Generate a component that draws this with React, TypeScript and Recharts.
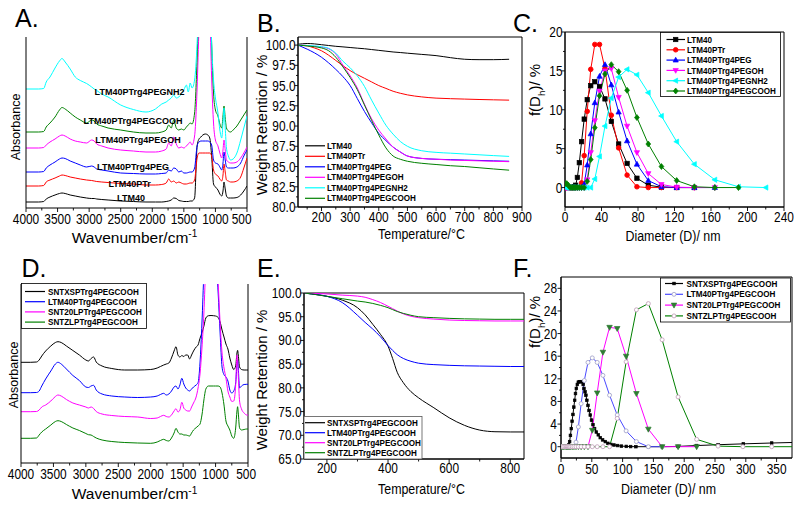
import React from 'react';
import { LineChart, Line, XAxis, YAxis, ReferenceArea, ReferenceDot, ReferenceLine } from 'recharts';

const FONT = "'Liberation Sans', Arial, Helvetica, sans-serif";
const BLACK = '#000000';
const RED = '#ff0000';
const BLUE = '#0000ff';
const MAGENTA = '#ff00ff';
const CYAN = '#00ffff';
const GREEN = '#008000';

/* ---------------- Panel A : FTIR (LTM40 series) ---------------- */
const wavenumbersA = [4000, 3800, 3720, 3680, 3620, 3540, 3470, 3430, 3380, 3300, 3220, 3140, 3040, 2960, 2920, 2880, 2800, 2700, 2500, 2300, 2100, 1950, 1850, 1780, 1740, 1700, 1660, 1620, 1580, 1540, 1500, 1460, 1430, 1400, 1370, 1330, 1290, 1260, 1230, 1200, 1160, 1120, 1090, 1060, 1030, 1000, 960, 930, 900, 880, 864, 845, 825, 795, 760, 720, 660, 600, 550, 500];
const ltm40A = [6, 6, 6.5, 9, 11, 13, 14.5, 15, 14.5, 13, 12, 11, 10, 9.5, 9.5, 9, 8.5, 8, 7, 6.5, 6, 6, 6, 6.5, 7, 8, 10, 9.5, 7.5, 7, 6.5, 6.5, 6.5, 7, 7, 10, 62, 69, 71, 73, 74, 73, 70, 52, 24, 21, 18, 14, 12, 17, 26, 19, 12, 10, 10, 10, 10.5, 13, 17, 22];
const ltm40PTrA = [22, 22, 22.5, 26, 28, 30, 32, 33, 32.5, 31, 30, 29, 28, 27.5, 27, 26.5, 26, 25.5, 24.5, 24, 23, 23, 23.5, 25, 29, 26, 27, 25, 26, 25, 24, 24, 24.5, 25, 25, 28, 50, 55, 55, 55, 55, 55, 55, 52, 38, 34, 32, 29, 27, 33, 44, 36, 28, 27, 26, 26, 27, 31, 40, 50];
const pegA = [36, 36, 36.5, 40, 43, 46, 49, 50, 49.5, 47, 45, 43, 41, 42, 41, 39, 38, 37, 35, 34.5, 34, 34, 34.5, 35, 38, 37, 40, 39, 36, 37, 35, 35, 35.5, 36, 36, 40, 62, 66, 67, 67, 67, 67, 66, 63, 48, 45, 44, 41, 38, 45, 56, 48, 41, 40, 40, 40, 41, 45, 52, 58];
const pegOHA = [60, 60, 60.5, 63, 66, 69, 72, 73, 72, 69, 67, 66, 65, 68, 67, 64, 62, 60, 58, 57, 56, 56, 57, 59, 65, 62, 71, 64, 60, 61, 60, 62, 64, 66, 63, 72, 120, 180, 215, 235, 245, 235, 200, 130, 85, 68, 62, 55, 50, 58, 68, 58, 48, 46, 45, 45, 46, 50, 55, 61];
const pegCOOHA = [76, 76, 76.5, 81, 85, 91, 98, 100.5, 99, 95, 91, 88, 85, 88, 87, 84, 82, 80, 78, 76, 75, 75, 76, 78, 83, 80, 88, 80, 78, 79, 78, 81, 83, 85, 84, 95, 150, 210, 250, 270, 280, 270, 225, 165, 115, 98, 92, 84, 80, 92, 102, 90, 80, 77, 76, 78, 82, 88, 93, 98];
const pegNH2A = [119, 119, 119.5, 126, 131, 140, 147, 149.5, 146, 139, 131, 127.5, 124.5, 121, 119, 117.5, 114, 111, 103, 98.5, 96, 99, 104, 106, 108, 110, 113, 110, 111, 114, 118, 123, 116, 125, 120, 128, 165, 215, 255, 275, 285, 275, 230, 165, 128, 110, 95, 78, 70, 85, 100, 80, 60, 52, 48, 49, 55, 68, 80, 92];
const labelWavenumberA = [2337, 2360, 2305, 2226, 2305, 2202];
const labelAbsorbanceA = [10, 24, 41, 68, 87, 116.3];

/* ---------------- Panel B : TGA (LTM40 series) ---------------- */
const temperaturesB = [118, 150, 175, 200, 225, 250, 275, 300, 325, 350, 375, 400, 425, 450, 475, 500, 550, 600, 650, 700, 750, 800, 855];
const ltm40B = [100.1, 100.2, 100.15, 100.05, 99.95, 99.85, 99.78, 99.7, 99.62, 99.55, 99.45, 99.35, 99.25, 99.15, 99.08, 99.0, 98.85, 98.7, 98.45, 98.25, 98.2, 98.2, 98.25];
const ltm40PTrB = [100, 99.9, 99.65, 99.3, 98.75, 98.1, 97.45, 96.85, 96.35, 95.9, 95.45, 95.0, 94.65, 94.3, 94.05, 93.85, 93.6, 93.45, 93.38, 93.33, 93.28, 93.24, 93.2];
const pegB = [100, 99.5, 99.05, 98.5, 97.8, 97.0, 96.1, 95.0, 93.4, 91.8, 90.4, 89.1, 88.2, 87.4, 86.8, 86.3, 86.0, 85.9, 85.85, 85.8, 85.75, 85.7, 85.65];
const pegOHB = [100, 99.95, 99.85, 99.75, 99.55, 98.9, 97.5, 96.2, 94.7, 92.7, 90.9, 89.5, 88.4, 87.4, 86.8, 86.3, 86.0, 85.9, 85.8, 85.75, 85.7, 85.65, 85.6];
const pegNH2B = [100, 99.95, 99.9, 99.8, 99.6, 99.0, 98.0, 97.2, 96.2, 94.9, 93.2, 91.6, 90.1, 89.0, 88.1, 87.5, 86.95, 86.75, 86.65, 86.55, 86.45, 86.35, 86.25];
const pegCOOHB = [100, 99.9, 99.8, 99.65, 99.3, 98.5, 97.3, 96.0, 94.5, 92.6, 90.7, 88.9, 87.3, 86.3, 85.9, 85.65, 85.4, 85.25, 85.1, 85.0, 84.85, 84.7, 84.55];

/* ---------------- Panel C : DLS (LTM40 series) ---------------- */
const diametersC = [0.96, 2.01, 3.62, 5.62, 7.53, 8.72, 10.1, 11.7, 13.54, 15.69, 18.17, 21.04, 24.36, 28.21, 32.67, 37.84, 43.82, 50.75, 58.77, 68.06, 78.82, 91.28, 105.7, 122.4, 141.8, 164.2, 190.1, 220.2];
const ltm40C = [0, 0, 0, 0, 0, 0, 0.1, 0.3, 1.3, 3.2, 5.9, 8.8, 11.3, 13.1, 13.6, 13.0, 11.4, 8.5, 5.6, 3.1, 1.2, 0.3, 0.05, 0, 0, null, null, null];
const ltm40PTrC = [0, 0, 0, 0, 0, 0, 0, 0, 0, 0, 0.6, 4.1, 9.8, 15.2, 18.4, 18.4, 15.3, 9.3, 5.1, 1.6, 0.1, 0, 0, 0, 0, null, null, null];
const pegC = [0, 0, 0, 0, 0, 0, 0, 0, 0, 0, 0, 0.4, 2.9, 6.9, 10.9, 14.3, 15.8, 13.2, 9.7, 6.0, 3.0, 0.9, 0.1, 0, 0, 0, null, null];
const pegOHC = [0, 0, 0, 0, 0, 0, 0, 0, 0, 0, 0, 0, 1.0, 4.5, 8.6, 12.4, 15.0, 15.3, 11.6, 7.9, 4.5, 1.8, 0.4, 0.05, 0, 0, null, null];
const pegNH2C = [0, 0, 0, 0, 0, 0, 0, 0, 0, 0, 0, 0, 0, 0, 1.1, 4.0, 7.9, 11.5, 14.2, 15.2, 14.5, 12.2, 9.2, 5.9, 3.0, 1.0, 0.1, 0];
const pegCOOHC = [0.5, 0.5, 0.3, 0, 0, 0, 0, 0, 0, 0, 0, 0, 0.8, 3.6, 7.7, 11.8, 14.6, 15.8, 14.9, 12.5, 9.0, 5.6, 2.7, 0.9, 0.1, 0, 0, null];

/* ---------------- Panel D : FTIR (PEGCOOH series) ---------------- */
const wavenumbersD = [4000, 3850, 3760, 3720, 3680, 3620, 3540, 3470, 3430, 3380, 3300, 3200, 3100, 3000, 2960, 2920, 2880, 2840, 2750, 2600, 2400, 2200, 2000, 1900, 1850, 1800, 1760, 1720, 1680, 1640, 1610, 1580, 1550, 1520, 1490, 1460, 1430, 1400, 1370, 1340, 1300, 1270, 1240, 1210, 1180, 1150, 1110, 1070, 1030, 1000, 960, 930, 900, 870, 840, 810, 780, 750, 720, 690, 670, 660, 650, 630, 600, 560, 520, 500];
const sntxspD = [100.7, 100.7, 101, 103, 107, 112, 117, 120.5, 121.3, 120.5, 117, 112.5, 108, 103, 102, 104.5, 106, 101, 97, 94.5, 93, 93, 93.5, 95, 96.5, 98, 99, 100, 105, 112, 116.3, 108, 106, 107.5, 106.5, 108, 108, 104, 108, 112, 116, 118, 124.7, 130, 137, 145, 147.3, 147.5, 147.3, 147, 145.5, 141, 133, 126, 119, 114, 105, 98, 93.5, 97, 110, 112.7, 108, 96, 93.5, 93, 93, 93];
const ltm40D = [70.3, 70.3, 70.5, 72, 77, 84, 92, 99, 100.7, 99, 94, 87.5, 82.5, 76, 75.5, 77, 77.7, 73, 69, 67, 66, 65.5, 66, 67, 68.5, 69.7, 68, 69, 72, 76, 77, 74, 78, 84.7, 79, 75, 73, 72, 74, 76, 78, 80.3, 100, 140, 190, 220, 240, 240, 230, 210, 170, 130, 96, 88.3, 86, 82, 73, 70, 72, 80, 98, 103, 95, 75, 77, 78.5, 78.7, 78.7];
const snt20lpD = [51.3, 51.3, 51.5, 53, 56, 58, 62, 66.5, 68, 67, 63.5, 60, 58, 56, 55, 56, 54.5, 51.5, 49, 47.5, 46.5, 46, 44.5, 45, 46.5, 47.7, 46.5, 46, 48, 52, 54.3, 51, 53, 60.7, 55, 53, 52, 52, 56, 60, 66, 75, 89, 115, 150, 200, 240, 250, 240, 220, 180, 140, 110, 95, 85, 72, 66, 61.5, 62, 78, 108, 102, 88, 62, 54, 50, 48, 48];
const sntzlpD = [24.7, 24.7, 25, 28, 31, 34, 38, 41.5, 42.3, 41.5, 38.5, 35, 32.5, 29.5, 28.3, 28, 26.5, 25, 23, 21.5, 20.5, 20, 19.7, 21, 22.5, 23.7, 22.5, 22, 25, 30, 34.7, 31, 29, 29, 28, 28, 27.5, 27, 30, 33, 35.3, 37, 39, 48, 63, 74, 77, 77, 77, 77, 77, 76, 70, 58, 42, 37, 33, 27, 24.7, 35, 52, 56.3, 50, 35, 33, 33.5, 34, 34];

/* ---------------- Panel E : TGA (PEGCOOH series) ---------------- */
const temperaturesE = [125, 150, 200, 250, 300, 325, 350, 375, 400, 415, 430, 450, 475, 500, 550, 600, 650, 700, 750, 800, 845];
const sntxspE = [100, 99.8, 99.3, 98.5, 96.9, 95.4, 93.4, 91.3, 88.8, 86.2, 83.3, 81.1, 79.2, 77.9, 75.8, 73.7, 72.1, 71.1, 70.75, 70.7, 70.7];
const ltm40E = [100, 99.8, 99.3, 98.0, 95.3, 93.8, 92.4, 90.8, 88.9, 87.9, 87.0, 86.2, 85.6, 85.2, 84.9, 84.75, 84.65, 84.6, 84.55, 84.5, 84.5];
const snt20lpE = [100, 99.95, 99.8, 99.55, 99.35, 99.1, 98.6, 98.0, 97.2, 96.7, 96.2, 95.6, 95.1, 94.8, 94.5, 94.3, 94.2, 94.15, 94.1, 94.1, 94.1];
const sntzlpE = [100, 99.8, 99.3, 98.8, 98.3, 98.1, 97.8, 97.4, 96.9, 96.5, 96.1, 95.7, 95.3, 95.0, 94.8, 94.65, 94.55, 94.5, 94.45, 94.45, 94.45];

/* ---------------- Panel F : DLS (PEGCOOH series) ---------------- */
const diametersF = [0.96, 2.01, 4.19, 6.5, 8.72, 10.1, 11.7, 13.54, 15.69, 18.17, 21.04, 24.36, 28.21, 32.67, 37.84, 43.82, 50.75, 58.77, 68.06, 78.82, 91.28, 105.7, 122.4, 141.8, 164.2, 190.1, 220.2, 255.0, 295.3, 342.0, 396.1];
const ltm40F = [0, 0, 0, 0, 0, 0, 0, 0, 0, 0, 0, 0.8, 3.5, 7.6, 11.7, 14.9, 15.7, 14.9, 12.6, 9.1, 5.6, 2.8, 0.9, 0, 0, null, null, null, null, null, null];
const snt20lpF = [0, 0, 0, 0, 0, 0, 0, 0, 0, 0, 0, 0, 0, 0, 0, 0, 2.9, 9.5, 16.7, 21.1, 20.9, 16.0, 9.4, 3.1, 0, 0, 0, null, null, null, null];
const sntzlpF = [0, 0, 0, 0, 0, 0, 0, 0, 0, 0, 0, 0, 0, 0, 0, 0, 0, 0, 0, 0, 5.0, 15.0, 24.2, 25.3, 18.9, 8.8, 1.3, 0.1, 0, 0, 0];
const sntxspDiametersF = [8.5, 10.8, 12.4, 14, 15.3, 16.7, 18, 19.4, 20.8, 22.2, 23.5, 24.9, 26.5, 28.1, 29.7, 31.3, 33, 34.6, 36, 37.3, 39, 40.5, 42, 43.8, 45.5, 47.5, 49.5, 51.9, 54.5, 57.3, 60.5, 63.7, 67.5, 71.9, 76, 81, 86, 91.8, 98, 106, 113, 121.6, 142, 164, 190, 220, 255, 296, 342, 396];
const sntxspF = [0, 0.1, 0.3, 0.9, 2.0, 3.2, 4.5, 5.7, 7.0, 8.2, 9.4, 10.3, 11.0, 11.4, 11.5, 11.5, 11.5, 11.5, 11.0, 10.3, 9.7, 9.1, 8.2, 7.3, 6.4, 5.6, 4.7, 3.9, 3.2, 2.6, 2.1, 1.6, 1.2, 0.9, 0.6, 0.4, 0.3, 0.2, 0.1, 0.05, 0.02, 0, 0, 0, 0.05, 0.2, 0.35, 0.5, 0.65, 0.8];

/* ---------------- Names & ticks ---------------- */
const namesLTM = ['LTM40', 'LTM40PTr', 'LTM40PTrg4PEG', 'LTM40PTrg4PEGOH', 'LTM40PTrg4PEGNH2', 'LTM40PTrg4PEGCOOH'];
const namesCOOH = ['SNTXSPTrg4PEGCOOH', 'LTM40PTrg4PEGCOOH', 'SNT20LPTrg4PEGCOOH', 'SNTZLPTrg4PEGCOOH'];

const wnMajor = [4000, 3500, 3000, 2500, 2000, 1500, 1000, 500];
const wnMinor = [3750, 3250, 2750, 2250, 1750, 1250, 750];
const tMajorB = [200, 300, 400, 500, 600, 700, 800, 900];
const tMinorB = [150, 250, 350, 450, 550, 650, 750, 850];
const wMajorB = [80, 82.5, 85, 87.5, 90, 92.5, 95, 97.5, 100];
const wMinorB = [81.25, 83.75, 86.25, 88.75, 91.25, 93.75, 96.25, 98.75];
const dMajorC = [0, 40, 80, 120, 160, 200, 240];
const dMinorC = [20, 60, 100, 140, 180, 220];
const fMajorC = [0, 5, 10, 15, 20];
const fMinorC = [2.5, 7.5, 12.5, 17.5];
const tMajorE = [200, 400, 600, 800];
const tMinorE = [300, 500, 700];
const wMajorE = [65, 70, 75, 80, 85, 90, 95, 100];
const wMinorE = [67.5, 72.5, 77.5, 82.5, 87.5, 92.5, 97.5];
const dMajorF = [0, 50, 100, 150, 200, 250, 300, 350];
const dMinorF = [25, 75, 125, 175, 225, 275, 325];
const fMajorF = [0, 4, 8, 12, 16, 20, 24, 28];
const fMinorF = [2, 6, 10, 14, 18, 22, 26];

const mk = (xs: number[], ys: (number | null)[]) => xs.map((x, i) => ({ x, y: ys[i] }));
const fmtInt = (v: number) => String(v);
const fmt1 = (v: number) => v.toFixed(1);

/* ---------------- helpers ---------------- */
const TICK_FS = 14;
const TICK_SX = 0.85;
const approxWidth = (s: string) => s.length * 0.556 * TICK_FS * TICK_SX;

// axisY: y of the x-axis line inside the chart svg; labelDy: baseline offset below it
function makeXTick(majors: number[], fmt: (v: number) => string, axisY: number, labelDy: number, maxRight = 1e9) {
  return (props: any) => {
    const x = Number(props.x);
    const v = Number(props.payload?.value);
    const major = majors.some((m) => Math.abs(m - v) < 1e-6);
    const txt = fmt(v);
    const lx = Math.min(x, maxRight - approxWidth(txt) / 2);
    return (
      <g key={`xt-${props.index}`}>
        <line x1={x} y1={axisY} x2={x} y2={axisY + (major ? 4 : 2.5)} stroke="#000" strokeWidth={0.9} />
        {major ? (
          <text transform={`translate(${lx},${axisY + labelDy}) scale(${TICK_SX},1)`} textAnchor="middle" fontSize={TICK_FS} fontFamily={FONT} fill="#000">
            {txt}
          </text>
        ) : null}
      </g>
    );
  };
}

// axisX: x of the y-axis line inside the chart svg
function makeYTick(majors: number[], fmt: (v: number) => string, axisX: number, labelDx: number) {
  return (props: any) => {
    const y = Number(props.y);
    const v = Number(props.payload?.value);
    const major = majors.some((m) => Math.abs(m - v) < 1e-6);
    return (
      <g key={`yt-${props.index}`}>
        <line x1={axisX} y1={y} x2={axisX - (major ? 3.5 : 2)} y2={y} stroke="#000" strokeWidth={0.9} />
        {major ? (
          <text transform={`translate(${axisX - labelDx},${y + 5}) scale(${TICK_SX},1)`} textAnchor="end" fontSize={TICK_FS} fontFamily={FONT} fill="#000">
            {fmt(v)}
          </text>
        ) : null}
      </g>
    );
  };
}

function XTitle(props: any) {
  const { tx, ty, sx, ttl, sup } = props;
  return (
    <text transform={`translate(${tx},${ty}) scale(${sx},1)`} textAnchor="middle" fontSize={15.5} fontFamily={FONT} fill="#000">
      {ttl}
      {sup ? <tspan dy={-5.5} fontSize={10}>{sup}</tspan> : null}
    </text>
  );
}

function YTitle(props: any) {
  const { tx, ty, fs, ttl, sub, rest } = props;
  return (
    <text transform={`translate(${tx},${ty}) rotate(-90)`} textAnchor="middle" fontSize={fs} fontFamily={FONT} fill="#000">
      {ttl}
      {sub ? <tspan dy={fs * 0.3} fontSize={fs * 0.65}>{sub}</tspan> : null}
      {sub ? <tspan dy={-fs * 0.3}>{rest}</tspan> : null}
    </text>
  );
}

function MarkerShape({ kind, cx, cy, size, fill, stroke }: any) {
  const h = size / 2;
  const sw = 0.7;
  switch (kind) {
    case 'square':
      return <rect x={cx - h} y={cy - h} width={size} height={size} fill={fill} stroke={stroke} strokeWidth={sw} />;
    case 'circle':
      return <circle cx={cx} cy={cy} r={h} fill={fill} stroke={stroke} strokeWidth={0.9} />;
    case 'triUp':
      return <polygon points={`${cx},${cy - h * 1.2} ${cx + h * 1.1},${cy + h * 0.8} ${cx - h * 1.1},${cy + h * 0.8}`} fill={fill} stroke={stroke} strokeWidth={sw} />;
    case 'triDown':
      return <polygon points={`${cx},${cy + h * 1.2} ${cx + h * 1.1},${cy - h * 0.8} ${cx - h * 1.1},${cy - h * 0.8}`} fill={fill} stroke={stroke} strokeWidth={sw} />;
    case 'triLeft':
      return <polygon points={`${cx - h * 1.2},${cy} ${cx + h * 0.8},${cy - h * 1.1} ${cx + h * 0.8},${cy + h * 1.1}`} fill={fill} stroke={stroke} strokeWidth={sw} />;
    case 'diamond':
      return <polygon points={`${cx},${cy - h * 1.25} ${cx + h},${cy} ${cx},${cy + h * 1.25} ${cx - h},${cy}`} fill={fill} stroke={stroke} strokeWidth={sw} />;
    default:
      return null;
  }
}

function dotFn(kind: string, size: number, fill: string, stroke: string) {
  return (p: any) => {
    const { cx, cy, index, payload } = p;
    if (cx == null || cy == null || payload == null || payload.y == null || isNaN(cx) || isNaN(cy)) {
      return <g key={`e${index}`} />;
    }
    return <MarkerShape key={`m${index}`} kind={kind} cx={cx} cy={cy} size={size} fill={fill} stroke={stroke} />;
  };
}

const wrap = (left: number, top: number): React.CSSProperties => ({ position: 'absolute', left, top });

/* ---------------- Panels ---------------- */
function PanelA() {
  const series = [
    { name: namesLTM[0], color: BLACK, v: ltm40A, li: 0 },
    { name: namesLTM[1], color: RED, v: ltm40PTrA, li: 1 },
    { name: namesLTM[2], color: BLUE, v: pegA, li: 2 },
    { name: namesLTM[3], color: MAGENTA, v: pegOHA, li: 3 },
    { name: namesLTM[5], color: GREEN, v: pegCOOHA, li: 4 },
    { name: namesLTM[4], color: CYAN, v: pegNH2A, li: 5 },
  ];
  return (
    <div style={wrap(0, 0)}>
      <LineChart width={262} height={250} margin={{ top: 37, right: 15, bottom: 0, left: 0 }}>
        <XAxis dataKey="x" type="number" domain={[500, 4000]} reversed allowDataOverflow ticks={[...wnMajor, ...wnMinor]} interval={0} tickSize={0} tickMargin={0} tickLine={false} axisLine={{ stroke: '#000' }} tick={makeXTick(wnMajor, fmtInt, 208, 16, 251.5)} height={42} label={<XTitle tx={134.5} ty={242.5} sx={1} ttl="Wavenumber/cm" sup="-1" />} />
        <YAxis type="number" domain={[0, 171]} allowDataOverflow tick={false} tickLine={false} axisLine={{ stroke: '#000' }} width={26} label={<YTitle tx={20} ty={127} fs={12.5} ttl="Absorbance" />} />
        <ReferenceLine x={500} stroke="#000" strokeWidth={1} ifOverflow="visible" />
        {series.map((s) => (
          <Line key={s.name} data={mk(wavenumbersA, s.v)} dataKey="y" type="monotone" stroke={s.color} strokeWidth={1} dot={false} isAnimationActive={false} />
        ))}
        {series.map((s) => (
          <ReferenceDot key={`lab-${s.name}`} x={labelWavenumberA[s.li]} y={labelAbsorbanceA[s.li]} r={0} fill="none" stroke="none" label={{ value: s.name, position: 'center', fontSize: 9, fontWeight: 700, fill: '#000', fontFamily: FONT }} />
        ))}
      </LineChart>
    </div>
  );
}

function PanelB() {
  const series = [
    { name: namesLTM[0], color: BLACK, v: ltm40B },
    { name: namesLTM[1], color: RED, v: ltm40PTrB },
    { name: namesLTM[2], color: BLUE, v: pegB },
    { name: namesLTM[3], color: MAGENTA, v: pegOHB },
    { name: namesLTM[4], color: CYAN, v: pegNH2B },
    { name: namesLTM[5], color: GREEN, v: pegCOOHB },
  ];
  return (
    <div style={wrap(245, 0)}>
      <LineChart width={290} height={250} margin={{ top: 37, right: 13, bottom: 0, left: 0 }}>
        <XAxis dataKey="x" type="number" domain={[118, 900]} allowDataOverflow ticks={[...tMajorB, ...tMinorB]} interval={0} tickSize={0} tickMargin={0} tickLine={false} axisLine={{ stroke: '#000' }} tick={makeXTick(tMajorB, fmtInt, 207, 15)} height={43} label={<XTitle tx={176.5} ty={239} sx={0.8} ttl="Temperature/°C" />} />
        <YAxis type="number" domain={[80, 101]} allowDataOverflow ticks={[...wMajorB, ...wMinorB]} interval={0} tickSize={0} tickMargin={0} tickLine={false} axisLine={{ stroke: '#000' }} tick={makeYTick(wMajorB, fmt1, 53, 2.5)} width={53} label={<YTitle tx={22} ty={125} fs={15} ttl="Weight Retention / %" />} />
        <ReferenceArea x1={118} x2={900} y1={80} y2={101} fill="none" stroke="#000" strokeWidth={1} ifOverflow="visible" />
        {series.map((s) => (
          <Line key={s.name} data={mk(temperaturesB, s.v)} dataKey="y" type="monotone" stroke={s.color} strokeWidth={1} dot={false} isAnimationActive={false} />
        ))}
      </LineChart>
    </div>
  );
}

const styleC = [
  { color: BLACK, kind: 'square', size: 4.4, fill: BLACK, stroke: BLACK },
  { color: RED, kind: 'circle', size: 4.6, fill: RED, stroke: RED },
  { color: BLUE, kind: 'triUp', size: 4.8, fill: BLUE, stroke: BLUE },
  { color: MAGENTA, kind: 'triDown', size: 4.8, fill: MAGENTA, stroke: MAGENTA },
  { color: CYAN, kind: 'triLeft', size: 4.8, fill: CYAN, stroke: CYAN },
  { color: GREEN, kind: 'diamond', size: 4.8, fill: GREEN, stroke: GREEN },
];
const valuesC = [ltm40C, ltm40PTrC, pegC, pegOHC, pegNH2C, pegCOOHC];

function PanelC() {
  return (
    <div style={wrap(520, 0)}>
      <LineChart width={280} height={250} margin={{ top: 32, right: 16, bottom: 0, left: 0 }}>
        <XAxis dataKey="x" type="number" domain={[0, 240]} allowDataOverflow ticks={[...dMajorC, ...dMinorC]} interval={0} tickSize={0} tickMargin={0} tickLine={false} axisLine={{ stroke: '#000' }} tick={makeXTick(dMajorC, fmtInt, 207, 14.5)} height={43} label={<XTitle tx={153} ty={240.5} sx={0.8} ttl="Diameter (D)/ nm" />} />
        <YAxis type="number" domain={[-2.5, 20]} allowDataOverflow ticks={[...fMajorC, ...fMinorC]} interval={0} tickSize={0} tickMargin={0} tickLine={false} axisLine={{ stroke: '#000' }} tick={makeYTick(fMajorC, fmtInt, 45, 2.5)} width={45} label={<YTitle tx={20} ty={90} fs={15} ttl="f(D" sub="h" rest=")/ %" />} />
        <ReferenceArea x1={0} x2={240} y1={-2.5} y2={20} fill="none" stroke="#000" strokeWidth={1} ifOverflow="visible" />
        {styleC.map((s, i) => (
          <Line key={namesLTM[i]} data={mk(diametersC, valuesC[i])} dataKey="y" type="linear" stroke={s.color} strokeWidth={1} dot={dotFn(s.kind, s.size, s.fill, s.stroke)} isAnimationActive={false} />
        ))}
      </LineChart>
    </div>
  );
}

function PanelD() {
  const series = [
    { name: namesCOOH[0], color: BLACK, v: sntxspD },
    { name: namesCOOH[1], color: BLUE, v: ltm40D },
    { name: namesCOOH[2], color: MAGENTA, v: snt20lpD },
    { name: namesCOOH[3], color: GREEN, v: sntzlpD },
  ];
  return (
    <div style={wrap(0, 250)}>
      <LineChart width={262} height={257} margin={{ top: 34, right: 14, bottom: 0, left: 0 }}>
        <XAxis dataKey="x" type="number" domain={[500, 4000]} reversed allowDataOverflow ticks={[...wnMajor, ...wnMinor]} interval={0} tickSize={0} tickMargin={0} tickLine={false} axisLine={{ stroke: '#000' }} tick={makeXTick(wnMajor, fmtInt, 213, 16, 256)} height={44} label={<XTitle tx={134.5} ty={249} sx={1} ttl="Wavenumber/cm" sup="-1" />} />
        <YAxis type="number" domain={[0, 179]} allowDataOverflow tick={false} tickLine={false} axisLine={{ stroke: '#000' }} width={21} label={<YTitle tx={18.3} ty={125} fs={12.5} ttl="Absorbance" />} />
        <ReferenceLine x={500} stroke="#000" strokeWidth={1} ifOverflow="visible" />
        {series.map((s) => (
          <Line key={s.name} data={mk(wavenumbersD, s.v)} dataKey="y" type="monotone" stroke={s.color} strokeWidth={1} dot={false} isAnimationActive={false} />
        ))}
      </LineChart>
    </div>
  );
}

function PanelE() {
  const series = [
    { name: namesCOOH[0], color: BLACK, v: sntxspE },
    { name: namesCOOH[1], color: BLUE, v: ltm40E },
    { name: namesCOOH[2], color: MAGENTA, v: snt20lpE },
    { name: namesCOOH[3], color: GREEN, v: sntzlpE },
  ];
  return (
    <div style={wrap(245, 250)}>
      <LineChart width={290} height={257} margin={{ top: 43, right: 11, bottom: 0, left: 0 }}>
        <XAxis dataKey="x" type="number" domain={[125, 845]} allowDataOverflow ticks={[...tMajorE, ...tMinorE]} interval={0} tickSize={0} tickMargin={0} tickLine={false} axisLine={{ stroke: '#000' }} tick={makeXTick(tMajorE, fmtInt, 209, 14)} height={48} label={<XTitle tx={176.5} ty={243.5} sx={0.8} ttl="Temperature/°C" />} />
        <YAxis type="number" domain={[65, 100]} allowDataOverflow ticks={[...wMajorE, ...wMinorE]} interval={0} tickSize={0} tickMargin={0} tickLine={false} axisLine={{ stroke: '#000' }} tick={makeYTick(wMajorE, fmt1, 59, 2.5)} width={59} label={<YTitle tx={22} ty={130} fs={15} ttl="Weight Retention / %" />} />
        <ReferenceArea x1={125} x2={845} y1={65} y2={100} fill="none" stroke="#000" strokeWidth={1} ifOverflow="visible" />
        {series.map((s) => (
          <Line key={s.name} data={mk(temperaturesE, s.v)} dataKey="y" type="monotone" stroke={s.color} strokeWidth={1} dot={false} isAnimationActive={false} />
        ))}
      </LineChart>
    </div>
  );
}

const styleF = [
  { color: BLACK, kind: 'square', size: 2.6, fill: BLACK, stroke: BLACK },
  { color: '#4a4aff', kind: 'circle', size: 4, fill: '#ffffff', stroke: '#a6a6cc' },
  { color: MAGENTA, kind: 'triDown', size: 5, fill: '#2e7d32', stroke: '#2e7d32' },
  { color: GREEN, kind: 'circle', size: 4, fill: '#ffffff', stroke: '#c4a4bc' },
];

function PanelF() {
  const data = [mk(sntxspDiametersF, sntxspF), mk(diametersF, ltm40F), mk(diametersF, snt20lpF), mk(diametersF, sntzlpF)];
  return (
    <div style={wrap(520, 250)}>
      <LineChart width={280} height={257} margin={{ top: 27, right: 8, bottom: 0, left: 0 }}>
        <XAxis dataKey="x" type="number" domain={[0, 375]} allowDataOverflow ticks={[...dMajorF, ...dMinorF]} interval={0} tickSize={0} tickMargin={0} tickLine={false} axisLine={{ stroke: '#000' }} tick={makeXTick(dMajorF, fmtInt, 208, 15.5)} height={49} label={<XTitle tx={148.5} ty={243.5} sx={0.8} ttl="Diameter (D)/ nm" />} />
        <YAxis type="number" domain={[-2, 30]} allowDataOverflow ticks={[...fMajorF, ...fMinorF]} interval={0} tickSize={0} tickMargin={0} tickLine={false} axisLine={{ stroke: '#000' }} tick={makeYTick(fMajorF, fmtInt, 41, 4)} width={41} label={<YTitle tx={20} ty={72} fs={15} ttl="f(D" sub="h" rest=")/ %" />} />
        <ReferenceArea x1={0} x2={375} y1={-2} y2={30} fill="none" stroke="#000" strokeWidth={1} ifOverflow="visible" />
        {styleF.map((s, i) => (
          <Line key={namesCOOH[i]} data={data[i]} dataKey="y" type="linear" stroke={s.color} strokeWidth={1} dot={dotFn(s.kind, s.size, s.fill, s.stroke)} isAnimationActive={false} />
        ))}
      </LineChart>
    </div>
  );
}

/* ---------------- Overlay: panel letters & legends ---------------- */
function LegendText({ x, y, t }: any) {
  return (
    <text transform={`translate(${x},${y + 3.1}) scale(0.9,1)`} fontSize={9} fontWeight={700} fontFamily={FONT} fill="#000">
      {t}
    </text>
  );
}

function Overlay() {
  const colorsLTM = [BLACK, RED, BLUE, MAGENTA, CYAN, GREEN];
  const colorsCOOH = [BLACK, BLUE, MAGENTA, GREEN];
  const letters = [
    { t: 'A.', x: 15, y: 26.5 },
    { t: 'B.', x: 257, y: 31.5 },
    { t: 'C.', x: 513, y: 31.5 },
    { t: 'D.', x: 21.5, y: 276.5 },
    { t: 'E.', x: 257, y: 276.5 },
    { t: 'F.', x: 513, y: 276.5 },
  ];
  return (
    <svg width={800} height={507} style={{ position: 'absolute', left: 0, top: 0, pointerEvents: 'none' }}>
      {letters.map((l) => (
        <text key={l.t} x={l.x} y={l.y} fontSize={25} fontFamily={FONT} fill="#000">{l.t}</text>
      ))}
      {/* Legend B */}
      {namesLTM.map((n, i) => {
        const y = 145.8 + i * 10.5;
        return (
          <g key={`lb${i}`}>
            <line x1={305} x2={325} y1={y} y2={y} stroke={colorsLTM[i]} strokeWidth={1.2} />
            <LegendText x={327} y={y} t={n} />
          </g>
        );
      })}
      {/* Legend C */}
      <rect x={660.5} y={32.5} width={120} height={64} fill="#fff" stroke="#000" strokeWidth={0.8} />
      {namesLTM.map((n, i) => {
        const y = 39.5 + i * 10.3;
        const s = styleC[i];
        return (
          <g key={`lc${i}`}>
            <line x1={666.5} x2={685} y1={y} y2={y} stroke={s.color} strokeWidth={1.2} />
            <MarkerShape kind={s.kind} cx={675.7} cy={y} size={s.size} fill={s.fill} stroke={s.stroke} />
            <LegendText x={687} y={y} t={n} />
          </g>
        );
      })}
      {/* Legend D */}
      <rect x={21.5} y={283.5} width={125} height={45} fill="#fff" stroke="#000" strokeWidth={0.8} />
      {namesCOOH.map((n, i) => {
        const y = 291.5 + i * 10.2;
        return (
          <g key={`ld${i}`}>
            <line x1={25} x2={45} y1={y} y2={y} stroke={colorsCOOH[i]} strokeWidth={1.2} />
            <LegendText x={48} y={y} t={n} />
          </g>
        );
      })}
      {/* Legend E */}
      <rect x={304} y={416.5} width={118} height={42.5} fill="#fff" stroke="#555" strokeWidth={0.8} />
      {namesCOOH.map((n, i) => {
        const y = 422.7 + i * 10;
        return (
          <g key={`le${i}`}>
            <line x1={305} x2={325} y1={y} y2={y} stroke={colorsCOOH[i]} strokeWidth={1.2} />
            <LegendText x={327} y={y} t={n} />
          </g>
        );
      })}
      {/* Legend F */}
      <rect x={660.5} y={278} width={130} height={44} fill="#fff" stroke="#000" strokeWidth={0.8} />
      {namesCOOH.map((n, i) => {
        const y = 283.5 + i * 10.8;
        const s = styleF[i];
        return (
          <g key={`lf${i}`}>
            <line x1={665} x2={683} y1={y} y2={y} stroke={s.color} strokeWidth={1.2} />
            <MarkerShape kind={s.kind} cx={674} cy={y} size={s.size} fill={s.fill} stroke={s.stroke} />
            <LegendText x={686.5} y={y} t={n} />
          </g>
        );
      })}
    </svg>
  );
}

export default function App() {
  return (
    <div style={{ position: 'absolute', left: 0, top: 0, width: 800, height: 507, background: '#ffffff', overflow: 'hidden', fontFamily: FONT }}>
      <PanelA />
      <PanelB />
      <PanelC />
      <PanelD />
      <PanelE />
      <PanelF />
      <Overlay />
    </div>
  );
}
